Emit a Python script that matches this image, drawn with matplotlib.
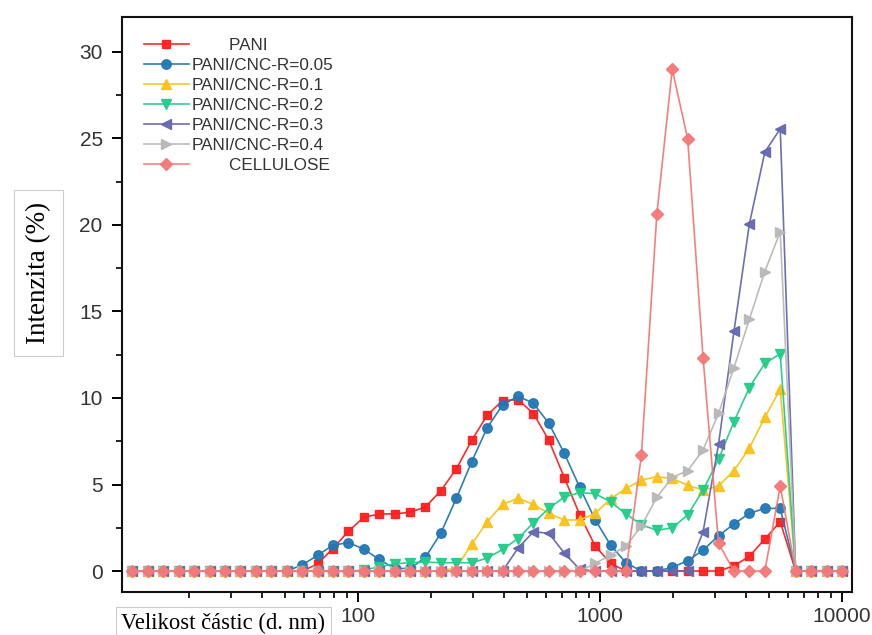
import matplotlib
matplotlib.use("Agg")
import matplotlib.pyplot as plt
from matplotlib.ticker import LogLocator, NullFormatter, FixedLocator, MultipleLocator

# Particle size bins (d. nm)
sizes = [11.70, 13.54, 15.69, 18.17, 21.04, 24.36, 28.21, 32.67, 37.84, 43.82,
         50.75, 58.77, 68.06, 78.82, 91.28, 105.7, 122.4, 141.8, 164.2, 190.1,
         220.2, 255.0, 295.3, 342.0, 396.1, 458.7, 531.2, 615.1, 712.4, 825.0,
         955.4, 1106, 1281, 1484, 1718, 1990, 2305, 2669, 3091, 3580,
         4145, 4801, 5560, 6439, 7456, 8635, 10000]

# Intensity distributions (%)
pani = [0]*12 + [0.4, 1.3, 2.3, 3.1, 3.3, 3.3, 3.4, 3.7, 4.65, 5.9,
                 7.55, 9.0, 9.85, 9.9, 9.1, 7.55, 5.4, 3.25, 1.45, 0.45] \
    + [0]*7 + [0.3, 0.85, 1.85, 2.85] + [0]*4
r005 = [0]*11 + [0.35, 0.9, 1.5, 1.64, 1.27, 0.67, 0.15, 0.15, 0.79, 2.2,
                 4.2, 6.32, 8.28, 9.6, 10.1, 9.69, 8.53, 6.8, 4.84, 2.97,
                 1.5, 0.48, 0, 0, 0.21, 0.6, 1.21, 2.04, 2.72, 3.33,
                 3.62, 3.62] + [0]*4
r01 = [0]*21 + [0.2, 1.54, 2.85, 3.85, 4.2, 3.85, 3.33, 2.95, 2.95, 3.33,
                4.17, 4.77, 5.25, 5.45, 5.35, 4.95, 4.68, 4.92, 5.8, 7.1,
                8.88, 10.5] + [0]*4
r02 = [0]*15 + [0.05, 0.25, 0.42, 0.48, 0.52, 0.48, 0.48, 0.48, 0.75, 1.25,
                1.88, 2.79, 3.62, 4.28, 4.53, 4.47, 4.0, 3.3, 2.68, 2.35,
                2.5, 3.24, 4.68, 6.45, 8.63, 10.6, 12.0, 12.55] + [0]*4
r03 = [0]*25 + [1.33, 2.27, 2.18, 1.04, 0.1] + [0]*7 \
    + [2.27, 7.33, 13.85, 20.05, 24.2, 25.55] + [0]*4
r04 = [0]*30 + [0.44, 0.92, 1.44, 2.6, 4.26, 5.41, 5.8, 7.0, 9.11, 11.75,
                14.55, 17.3, 19.6] + [0]*4
cellulose = [0]*33 + [6.7, 20.6, 29.0, 24.95, 12.3, 1.6, 0, 0, 0, 4.91] + [0]*4

labels = ["        PANI", "PANI/CNC-R=0.05", "PANI/CNC-R=0.1", "PANI/CNC-R=0.2",
          "PANI/CNC-R=0.3", "PANI/CNC-R=0.4", "        CELLULOSE"]

series = [pani, r005, r01, r02, r03, r04, cellulose]
colors = ["#FF1F1F", "#2277B4", "#F9C21A", "#22CC88", "#6468AE", "#B8B8B8", "#F57878"]
markers = ["s", "o", "^", "v", "<", ">", "D"]
msizes = [6.0, 6.8, 7.0, 7.0, 7.0, 7.0, 6.0]

plt.rcParams['font.family'] = ['Liberation Sans', 'DejaVu Sans']

fig = plt.figure(figsize=(8.72, 6.35), dpi=100)
ax = fig.add_axes([0.140, 0.068, 0.837, 0.905])

for y, c, m, ms, lab in zip(series, colors, markers, msizes, labels):
    ax.plot(sizes, y, color=c, lw=1.2, marker=m, ms=ms, mec=c, mfc=c,
            label=lab, alpha=0.95)

ax.set_xscale("log")
ax.set_xlim(10.6, 11000)
ax.set_ylim(-1.2, 32)

ax.xaxis.set_major_locator(FixedLocator([100, 1000, 10000]))
ax.set_xticklabels(["100", "1000", "10000"])
ax.xaxis.set_minor_locator(LogLocator(base=10, subs=range(2, 10), numticks=20))
ax.xaxis.set_minor_formatter(NullFormatter())
ax.yaxis.set_major_locator(MultipleLocator(5))
ax.yaxis.set_minor_locator(MultipleLocator(2.5))

for s in ax.spines.values():
    s.set_linewidth(1.5)
    s.set_color("#111111")

ax.tick_params(axis="both", which="major", direction="out", length=7, width=1.4,
               labelsize=15, labelcolor="#333333", top=False, right=False)
ax.tick_params(axis="both", which="minor", direction="out", length=4, width=1.2,
               top=False, right=False)
ax.tick_params(axis="x", which="major", pad=4)
ax.tick_params(axis="y", which="major", pad=7)

leg = ax.legend(loc="upper left", bbox_to_anchor=(0.014, 0.985), frameon=False,
                fontsize=12.3, handlelength=2.6, handletextpad=0.15,
                labelspacing=0.3, borderaxespad=0.3)
for t in leg.get_texts():
    t.set_color("#333333")

serif = ["Liberation Serif", "DejaVu Serif"]
fig.text(0.044, 0.570, "Intenzita (%)", rotation=90, ha="center", va="center",
         fontsize=19.5, family=serif,
         bbox=dict(boxstyle="square,pad=0.45", fc="white", ec="#cccccc", lw=0.8))
fig.text(0.256, 0.018, "Velikost částic (d. nm)", ha="center", va="center",
         fontsize=16.3, family=serif,
         bbox=dict(boxstyle="square,pad=0.25", fc="white", ec="#cccccc", lw=0.8))

fig.savefig("out.png", dpi=100)
